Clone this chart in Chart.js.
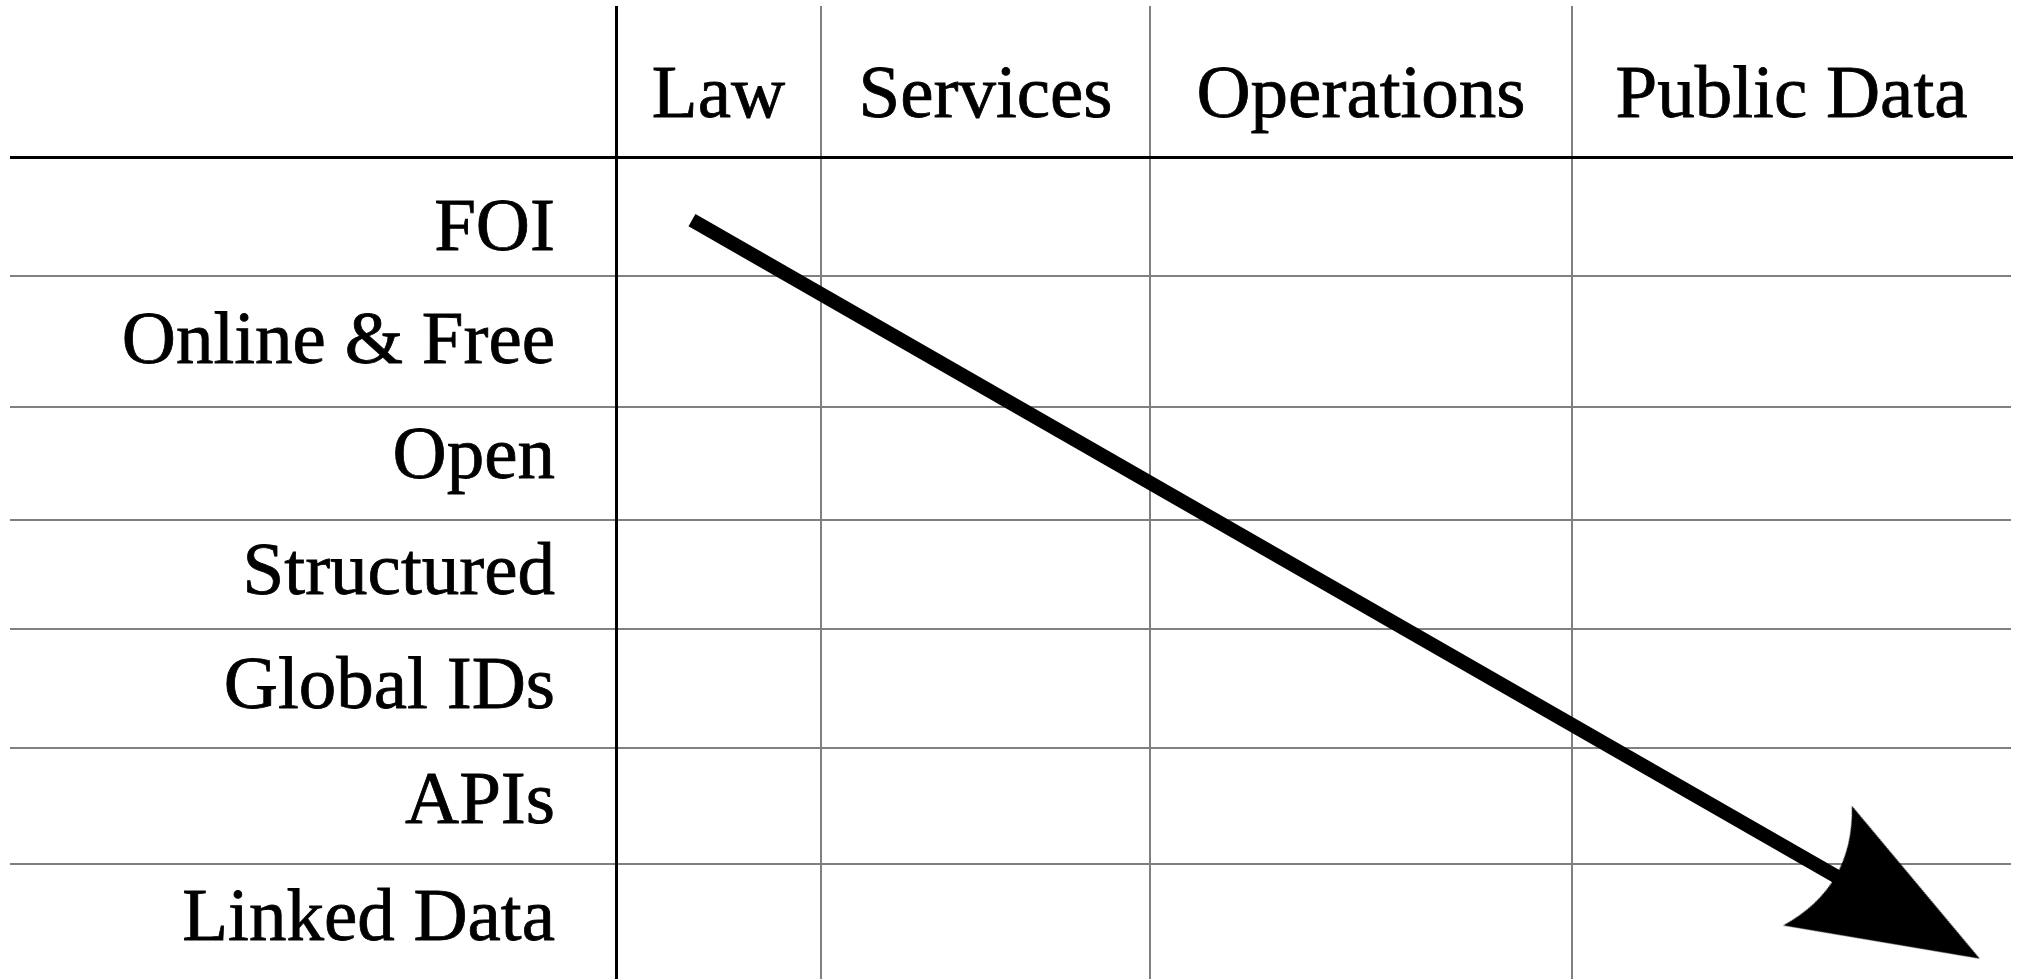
<!DOCTYPE html>
<html>
<head>
<meta charset="utf-8">
<script src="https://cdn.jsdelivr.net/npm/chart.js@4/dist/chart.umd.min.js"></script>
<style>
  html, body { margin: 0; padding: 0; background: #fff; }
  canvas { display: block; }
</style>
</head>
<body>
<canvas id="myChart" width="2021" height="979"></canvas>
<script>
// table headings
const columns = ['Law', 'Services', 'Operations', 'Public Data'];
const rows = ['FOI', 'Online & Free', 'Open', 'Structured', 'Global IDs', 'APIs', 'Linked Data'];

// the arrow shaft, in table units (x from the left rule, y down from the header rule)
const arrowX = [76, 1277];
const arrowY = [63, 751];

// table layout (table units)
const colWidths = [205, 329, 422, 439];
const rowHeights = [119, 131, 113, 108, 119, 116, 115];
const rowLabelAt = [73, 186, 301, 417, 531, 646, 762];

function edges(sizes) {
	let out = [0];
	sizes.forEach(s => out.push(out[out.length - 1] + s));
	return out;
}

const colEdges = edges(colWidths);
const rowEdges = edges(rowHeights);
const tableW = colEdges[colEdges.length - 1];
const tableH = rowEdges[rowEdges.length - 1];
const colMid = colWidths.map((w, i) => colEdges[i] + w / 2);

const labelFont = { family: "'Liberation Serif', serif", size: 75 };
const grey = '#808080';

// arrow head as a point style, tip 100px ahead of the point it sits on
const head = document.createElement('canvas');
head.width = 220;
head.height = 220;
(function () {
	const c = head.getContext('2d');
	const cx = 110, cy = 110;
	c.fillStyle = '#000';
	c.beginPath();
	c.moveTo(cx + 100, cy);
	c.lineTo(cx - 87, cy - 69);
	c.quadraticCurveTo(cx - 45, cy, cx - 87, cy + 69);
	c.closePath();
	c.fill();
})();

function ruleColor(ctx) { return ctx.index === 0 ? '#000' : grey; }
function ruleWidth(ctx) { return ctx.index === 0 ? 3 : 2; }

// label axes: no extra room for labels that would hang past the ends
function noPadding(s) {
	s.paddingTop = 0; s.paddingBottom = 0;
	s.paddingLeft = 0; s.paddingRight = 0;
}

var ctx = document.getElementById('myChart').getContext('2d');

var myChart = new Chart(ctx, {
	type: 'line',
	data: {
		datasets: [{
			data: arrowX.map((x, i) => ({ x: x, y: arrowY[i] })),
			borderColor: '#000',
			borderWidth: 14,
			borderCapStyle: 'butt',
			tension: 0,
			pointRadius: c => c.dataIndex === arrowX.length - 1 ? 1 : 0,
			pointStyle: head,
			pointRotation: c => {
				const sx = c.chart.scales.x, sy = c.chart.scales.y;
				const dx = sx.getPixelForValue(arrowX[1]) - sx.getPixelForValue(arrowX[0]);
				const dy = sy.getPixelForValue(arrowY[1]) - sy.getPixelForValue(arrowY[0]);
				return Math.atan2(dy, dx) * 180 / Math.PI;
			}
		}]
	},
	options: {
		responsive: false,
		devicePixelRatio: 1,
		animation: false,
		events: [],
		layout: { autoPadding: false, padding: { left: 10, top: 6, right: 10, bottom: 0 } },
		plugins: { legend: { display: false }, tooltip: { enabled: false } },
		scales: {
			// rules between columns
			x: {
				type: 'linear', position: 'top', weight: 0,
				min: 0, max: tableW,
				afterBuildTicks: s => { s.ticks = colEdges.slice(0, -1).map(v => ({ value: v })); },
				afterFit: s => { s.height = 0; noPadding(s); },
				grid: { color: ruleColor, lineWidth: ruleWidth, drawTicks: true, tickLength: 151 },
				border: { display: true, color: '#000', width: 3 },
				ticks: { display: false }
			},
			// column headings
			colLabels: {
				type: 'linear', position: 'top', weight: 1,
				min: 0, max: tableW,
				afterBuildTicks: s => { s.ticks = colMid.map(v => ({ value: v })); },
				afterFit: s => { s.height = 151; noPadding(s); },
				grid: { display: false, drawTicks: false },
				border: { display: false },
				ticks: {
					autoSkip: false, maxRotation: 0, minRotation: 0, padding: 15,
					color: '#000', font: labelFont,
					textStrokeColor: '#000', textStrokeWidth: 0.8,
					callback: (v, i) => columns[i]
				}
			},
			// rules between rows
			y: {
				type: 'linear', position: 'left', weight: 0, reverse: true,
				min: 0, max: tableH,
				afterBuildTicks: s => { s.ticks = rowEdges.slice(0, -1).map(v => ({ value: v })); },
				afterFit: s => { s.width = 0; noPadding(s); },
				grid: { color: ruleColor, lineWidth: ruleWidth, drawTicks: true, tickLength: 606 },
				border: { display: true, color: '#000', width: 3 },
				ticks: { display: false }
			},
			// row headings
			rowLabels: {
				type: 'linear', position: 'left', weight: 1, reverse: true,
				min: 0, max: tableH,
				afterBuildTicks: s => { s.ticks = rowLabelAt.map(v => ({ value: v })); },
				afterFit: s => { s.width = 606; noPadding(s); },
				grid: { display: false, drawTicks: false },
				border: { display: false },
				ticks: {
					autoSkip: false, padding: 61,
					color: '#000', font: labelFont,
					textStrokeColor: '#000', textStrokeWidth: 0.8,
					callback: (v, i) => rows[i]
				}
			}
		}
	}
});

myChart.update();
</script>
</body>
</html>
